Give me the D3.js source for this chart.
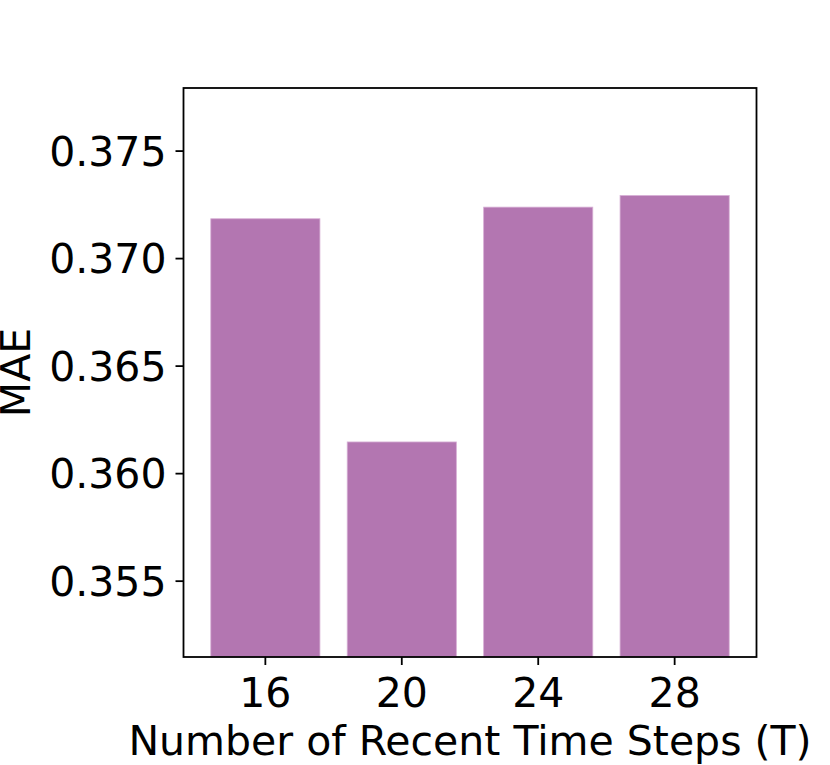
<!DOCTYPE html>
<html>
<head>
<meta charset="utf-8">
<script src="https://cdn.jsdelivr.net/npm/d3@7"></script>
<style>
  body { margin: 0; background: #fff; }
  svg { font-family: "DejaVu Sans", sans-serif; }
</style>
</head>
<body>
<div id="chart"></div>
<script>
// data
var steps = ["16", "20", "24", "28"];
var mae = [0.37183, 0.36145, 0.37237, 0.37291];
var yTicks = [0.355, 0.360, 0.365, 0.370, 0.375];

var width = 830, height = 765;
var margin = {left: 183.5, right: 73.5, top: 88, bottom: 108};
var w = width - margin.left - margin.right;
var h = height - margin.top - margin.bottom;
var fontSize = 41;

var svg = d3.select("#chart")
    .append("svg")
    .attr("width", width)
    .attr("height", height);

var g = svg.append("g")
    .attr("transform", "translate(" + margin.left + "," + margin.top + ")");

var x = d3.scaleBand()
    .domain(steps)
    .range([0, w])
    .paddingInner(0.2)
    .paddingOuter(0.2);

// ylim = (min - 0.01, max + 0.005)
var y = d3.scaleLinear()
    .domain([d3.min(mae) - 0.01, d3.max(mae) + 0.005])
    .range([h, 0]);

//bars
g.selectAll(".bar")
    .data(mae)
    .enter()
    .append("rect")
    .attr("class", "bar")
    .attr("x", function(d, i) { return x(steps[i]); })
    .attr("width", x.bandwidth())
    .attr("y", function(d) { return y(d); })
    .attr("height", function(d) { return h - y(d); })
    .attr("fill", "rgb(179,118,177)")
    .attr("stroke", "rgb(214,175,213)")
    .attr("stroke-width", 0.8);

//axes
var yAxis = g.append("g")
    .call(d3.axisLeft(y).tickValues(yTicks).tickFormat(d3.format(".3f")).tickSize(8).tickPadding(9));

var xAxis = g.append("g")
    .attr("transform", "translate(0," + h + ")")
    .call(d3.axisBottom(x).tickSize(8).tickPadding(12.5));

[xAxis, yAxis].forEach(function(a) {
    a.select(".domain").remove();
    a.selectAll("line").attr("stroke", "#000").attr("stroke-width", 1.8);
    a.selectAll("text").attr("font-size", fontSize).attr("fill", "#000")
        .attr("font-family", "DejaVu Sans");
});
yAxis.selectAll("text").attr("dy", "0.36em");

//frame
g.append("rect")
    .attr("width", w)
    .attr("height", h)
    .attr("fill", "none")
    .attr("stroke", "#000")
    .attr("stroke-width", 1.8);

//labels
svg.append("text")
    .attr("x", margin.left + w / 2)
    .attr("y", 755)
    .attr("text-anchor", "middle")
    .attr("font-size", fontSize)
    .text("Number of Recent Time Steps (T)");

svg.append("text")
    .attr("transform", "translate(30," + (margin.top + h / 2) + ") rotate(-90)")
    .attr("text-anchor", "middle")
    .attr("font-size", fontSize)
    .text("MAE");
</script>
</body>
</html>
